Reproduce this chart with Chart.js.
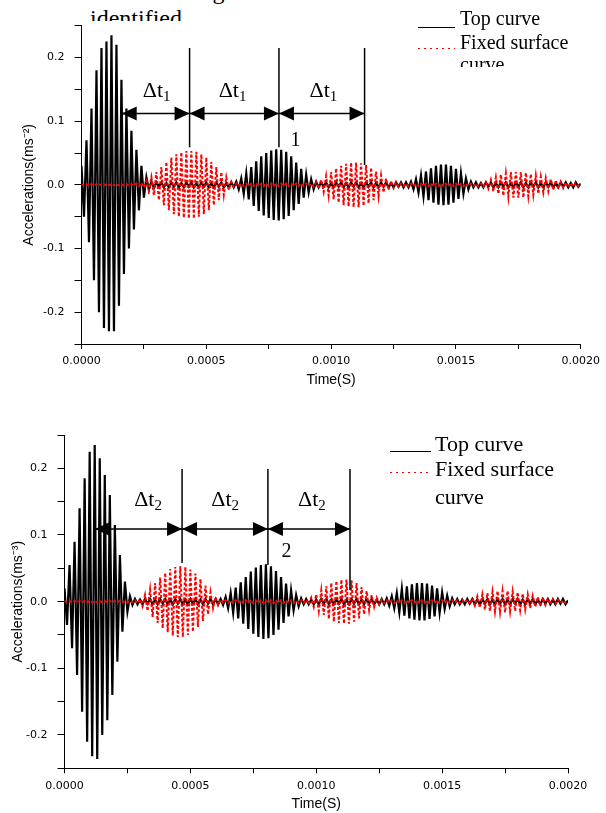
<!DOCTYPE html>
<html>
<head>
<meta charset="utf-8">
<title>Top curve / fixed surface curve</title>
<script src="https://cdn.jsdelivr.net/npm/chart.js@4.4.0/dist/chart.umd.min.js"></script>
<style>
  html, body { margin: 0; padding: 0; background: #fff; }
  body { width: 606px; height: 813px; position: relative; overflow: hidden; }
  #topBox { position: absolute; left: 0; top: 0; width: 606px; height: 400px; }
  #bottomBox { position: absolute; left: 0; top: 400px; width: 606px; height: 413px; }
  .serif { font-family: "Liberation Serif", "Times New Roman", serif; color: #000; white-space: nowrap; }
  .clip { position: absolute; overflow: hidden; }
  .abs { position: absolute; }
  .solid { position: absolute; height: 1px; background: #000; }
  .dots { position: absolute; height: 1px; background: repeating-linear-gradient(to right, #f00 0 2px, transparent 2px 6px); }
</style>
</head>
<body>

<!-- text of the page above the figure, cut off by the figure -->
<div class="clip serif" style="left:0; top:0; width:606px; height:21px; font-size:24px;">
  <div class="abs" style="left:90px; top:-22px; line-height:27px;">
    the wave ranges and the reflected wave could be clearly<br>identified
  </div>
</div>

<div id="topBox"><canvas id="chart1"></canvas></div>
<div id="bottomBox"><canvas id="chart2"></canvas></div>

<!-- legend, upper chart -->
<div class="clip" style="left:410px; top:0; width:196px; height:67px;">
  <div class="solid" style="left:8px; top:27px; width:37px;"></div>
  <div class="abs serif" style="left:50px; top:6px; font-size:20px; line-height:24px;">Top curve</div>
  <div class="dots" style="left:8px; top:48px; width:37px;"></div>
  <div class="abs serif" style="left:50px; top:30px; font-size:20px; line-height:24px;">Fixed surface</div>
  <div class="abs serif" style="left:50px; top:52px; font-size:20px; line-height:24px;">curve</div>
</div>

<!-- legend, lower chart -->
<div class="solid" style="left:390px; top:451px; width:41px;"></div>
<div class="abs serif" style="left:435px; top:431px; font-size:22px; line-height:26px;">Top curve</div>
<div class="dots" style="left:390px; top:472px; width:41px;"></div>
<div class="abs serif" style="left:435px; top:456px; font-size:22px; line-height:26px;">Fixed surface</div>
<div class="abs serif" style="left:435px; top:484px; font-size:22px; line-height:26px;">curve</div>

<script>
"use strict";

// one sample every 0.00001 s, 0 .. 0.002 s
const sampleStep = 0.00001;

// upper figure, accelerations (m/s2)
const topCurve1 = [
    0.03,-0.05,0.07,-0.09,0.12,-0.15,0.18,-0.2,0.215,-0.225,
    0.225,-0.23,0.235,-0.23,0.22,-0.19,0.165,-0.14,0.12,-0.1,
    0.085,-0.07,0.055,-0.04,0.03,-0.02,0.012,-0.008,0.006,-0.005,
    0.004,-0.003,0.004,-0.004,0.003,-0.004,0.004,-0.003,0.004,-0.004,
    0.003,-0.004,0.004,-0.003,0.004,-0.004,0.003,-0.004,0.004,-0.003,
    0.004,-0.004,0.003,-0.004,0.004,-0.003,0.004,-0.004,0.003,-0.004,
    0.004,-0.004,0.005,-0.007,0.01,-0.014,0.018,-0.023,0.028,-0.033,
    0.037,-0.041,0.045,-0.048,0.05,-0.052,0.054,-0.055,0.056,-0.056,
    0.055,-0.054,0.052,-0.049,0.045,-0.04,0.035,-0.03,0.025,-0.02,
    0.016,-0.012,0.009,-0.007,0.005,-0.004,0.004,-0.003,0.004,-0.004,
    0.003,-0.004,0.004,-0.003,0.004,-0.004,0.003,-0.004,0.004,-0.003,
    0.004,-0.004,0.003,-0.004,0.004,-0.003,0.004,-0.004,0.003,-0.004,
    0.004,-0.003,0.004,-0.004,0.003,-0.004,0.004,-0.003,0.004,-0.004,
    0.004,-0.004,0.005,-0.007,0.009,-0.012,0.015,-0.018,0.021,-0.024,
    0.026,-0.028,0.03,-0.031,0.032,-0.032,0.032,-0.031,0.03,-0.028,
    0.025,-0.022,0.018,-0.014,0.01,-0.007,0.005,-0.004,0.004,-0.004,
    0.003,-0.004,0.004,-0.003,0.004,-0.004,0.003,-0.004,0.004,-0.003,
    0.004,-0.004,0.003,-0.004,0.004,-0.003,0.004,-0.004,0.003,-0.004,
    0.004,-0.003,0.004,-0.004,0.003,-0.004,0.004,-0.003,0.004,-0.004,
    0.003,-0.004,0.004,-0.003,0.004,-0.004,0.003,-0.004,0.004,-0.003,
    0.002
];
const fixedCurve1 = [
    0.001,-0.001,0.001,-0.001,0.001,-0.001,0.001,-0.001,0.001,-0.001,
    0.001,-0.001,0.001,-0.001,0.001,-0.001,0.001,-0.001,0.001,-0.001,
    0.001,-0.001,0.002,-0.002,0.003,-0.004,0.006,-0.009,0.012,-0.016,
    0.02,-0.024,0.028,-0.032,0.036,-0.04,0.043,-0.046,0.048,-0.05,
    0.051,-0.052,0.053,-0.053,0.053,-0.053,0.052,-0.05,0.048,-0.046,
    0.043,-0.04,0.036,-0.032,0.028,-0.024,0.02,-0.016,0.012,-0.008,
    0.005,-0.003,0.002,-0.002,0.002,-0.002,0.002,-0.002,0.002,-0.002,
    0.002,-0.002,0.002,-0.002,0.002,-0.002,0.002,-0.002,0.002,-0.002,
    0.002,-0.002,0.002,-0.002,0.002,-0.002,0.002,-0.002,0.002,-0.002,
    0.002,-0.002,0.002,-0.003,0.004,-0.006,0.008,-0.011,0.014,-0.017,
    0.02,-0.023,0.026,-0.028,0.03,-0.032,0.033,-0.034,0.035,-0.035,
    0.035,-0.035,0.034,-0.033,0.031,-0.029,0.027,-0.024,0.021,-0.018,
    0.015,-0.012,0.01,-0.008,0.006,-0.005,0.004,-0.003,0.002,-0.002,
    0.002,-0.002,0.002,-0.002,0.002,-0.002,0.002,-0.002,0.002,-0.002,
    0.002,-0.002,0.002,-0.002,0.002,-0.002,0.002,-0.002,0.002,-0.002,
    0.002,-0.002,0.002,-0.002,0.002,-0.002,0.002,-0.002,0.002,-0.002,
    0.002,-0.003,0.004,-0.006,0.008,-0.01,0.012,-0.014,0.016,-0.017,
    0.018,-0.019,0.02,-0.02,0.02,-0.02,0.02,-0.02,0.019,-0.018,
    0.017,-0.016,0.015,-0.014,0.013,-0.012,0.011,-0.01,0.009,-0.008,
    0.007,-0.006,0.005,-0.005,0.004,-0.004,0.003,-0.003,0.002,-0.002,
    0.001
];

// lower figure
const topCurve2 = [
    0.02,-0.035,0.055,-0.07,0.09,-0.11,0.14,-0.165,0.185,-0.21,
    0.225,-0.232,0.235,-0.236,0.215,-0.2,0.19,-0.178,0.16,-0.14,
    0.115,-0.09,0.07,-0.045,0.03,-0.015,0.008,-0.005,0.004,-0.004,
    0.003,-0.004,0.004,-0.003,0.004,-0.004,0.003,-0.004,0.004,-0.003,
    0.004,-0.004,0.003,-0.004,0.004,-0.003,0.004,-0.004,0.003,-0.004,
    0.004,-0.003,0.004,-0.004,0.003,-0.004,0.004,-0.003,0.004,-0.004,
    0.004,-0.004,0.004,-0.005,0.007,-0.01,0.013,-0.017,0.021,-0.025,
    0.029,-0.033,0.037,-0.041,0.045,-0.048,0.051,-0.053,0.055,-0.056,
    0.056,-0.055,0.053,-0.05,0.046,-0.042,0.037,-0.032,0.027,-0.022,
    0.017,-0.013,0.01,-0.007,0.005,-0.004,0.004,-0.004,0.003,-0.004,
    0.003,-0.004,0.004,-0.003,0.004,-0.004,0.003,-0.004,0.004,-0.003,
    0.004,-0.004,0.003,-0.004,0.004,-0.003,0.004,-0.004,0.003,-0.004,
    0.004,-0.003,0.004,-0.004,0.003,-0.004,0.004,-0.004,0.005,-0.006,
    0.008,-0.01,0.013,-0.016,0.019,-0.021,0.023,-0.025,0.026,-0.027,
    0.028,-0.028,0.028,-0.028,0.027,-0.026,0.024,-0.022,0.02,-0.017,
    0.014,-0.011,0.009,-0.007,0.005,-0.004,0.004,-0.004,0.003,-0.004,
    0.004,-0.003,0.004,-0.004,0.003,-0.004,0.004,-0.003,0.004,-0.004,
    0.003,-0.004,0.004,-0.003,0.004,-0.004,0.003,-0.004,0.004,-0.003,
    0.004,-0.004,0.003,-0.004,0.004,-0.003,0.004,-0.004,0.003,-0.004,
    0.004,-0.003,0.004,-0.004,0.003,-0.004,0.004,-0.003,0.004,-0.004,
    0.002
];
const fixedCurve2 = [
    0.001,-0.001,0.001,-0.001,0.001,-0.001,0.001,-0.001,0.001,-0.001,
    0.001,-0.001,0.001,-0.001,0.001,-0.001,0.001,-0.001,0.001,-0.001,
    0.001,-0.001,0.001,-0.001,0.001,-0.001,0.001,-0.001,0.002,-0.002,
    0.004,-0.007,0.01,-0.014,0.018,-0.023,0.028,-0.032,0.036,-0.04,
    0.043,-0.046,0.049,-0.051,0.052,-0.053,0.053,-0.053,0.052,-0.05,
    0.048,-0.045,0.042,-0.038,0.034,-0.029,0.024,-0.019,0.014,-0.01,
    0.007,-0.005,0.003,-0.002,0.002,-0.002,0.002,-0.002,0.002,-0.002,
    0.002,-0.002,0.002,-0.002,0.002,-0.002,0.002,-0.002,0.002,-0.002,
    0.002,-0.002,0.002,-0.002,0.002,-0.002,0.002,-0.002,0.002,-0.002,
    0.002,-0.002,0.002,-0.002,0.002,-0.002,0.003,-0.004,0.006,-0.008,
    0.011,-0.014,0.017,-0.02,0.023,-0.026,0.028,-0.03,0.031,-0.032,
    0.033,-0.033,0.033,-0.033,0.032,-0.03,0.028,-0.025,0.022,-0.019,
    0.016,-0.013,0.01,-0.008,0.006,-0.004,0.003,-0.002,0.002,-0.002,
    0.002,-0.002,0.002,-0.002,0.002,-0.002,0.002,-0.002,0.002,-0.002,
    0.002,-0.002,0.002,-0.002,0.002,-0.002,0.002,-0.002,0.002,-0.002,
    0.002,-0.002,0.002,-0.002,0.002,-0.002,0.002,-0.002,0.002,-0.002,
    0.003,-0.004,0.005,-0.006,0.008,-0.009,0.011,-0.012,0.013,-0.014,
    0.015,-0.015,0.016,-0.016,0.016,-0.016,0.016,-0.015,0.015,-0.014,
    0.014,-0.013,0.012,-0.012,0.011,-0.01,0.009,-0.008,0.007,-0.007,
    0.006,-0.005,0.005,-0.004,0.004,-0.003,0.003,-0.002,0.002,-0.002,
    0.001
];

// delta-t markers (time in s, acceleration levels)
const markTimes1 = [0.000433, 0.000791, 0.001134];
const markEnds1 = [0.059, 0.059, 0.031];
const markTop1 = 0.215;
const arrowFrom1 = 0.000161;
const arrowLevel1 = 0.112;
const dtTimes1 = [0.000301, 0.000605, 0.000969];
const dtLevel1 = 0.138;
const peakNote1 = [0.000857, 0.061, "1"];

const markTimes2 = [0.000467, 0.000808, 0.001134];
const markEnds2 = [0.058, 0.055, 0.0175];
const markTop2 = 0.199;
const arrowFrom2 = 0.000121;
const arrowLevel2 = 0.109;
const dtTimes2 = [0.000332, 0.000638, 0.000983];
const dtLevel2 = 0.1435;
const peakNote2 = [0.000882, 0.067, "2"];

function toPoints(values) {
    return values.map((v, i) => ({ x: i * sampleStep, y: v }));
}

// Delta-t arrows drawn on the data scales
const dtMarkers = {
    id: 'dtMarkers',
    afterDatasetsDraw(chart, args, o) {
        const ctx = chart.ctx;
        const x = chart.scales.x, y = chart.scales.y;
        ctx.save();
        ctx.strokeStyle = '#000';
        ctx.fillStyle = '#000';
        ctx.lineWidth = 1.5;

        o.times.forEach((t, k) => {
            const px = x.getPixelForValue(t);
            ctx.beginPath();
            ctx.moveTo(px, y.getPixelForValue(o.top));
            ctx.lineTo(px, y.getPixelForValue(o.ends[k]));
            ctx.stroke();
        });

        const ay = y.getPixelForValue(o.level);
        const x0 = x.getPixelForValue(o.from);
        const x1 = x.getPixelForValue(o.times[o.times.length - 1]);
        ctx.beginPath();
        ctx.moveTo(x0, ay);
        ctx.lineTo(x1, ay);
        ctx.stroke();

        function head(tip, dir) {
            ctx.beginPath();
            ctx.moveTo(tip, ay);
            ctx.lineTo(tip - dir * 15, ay - 7);
            ctx.lineTo(tip - dir * 15, ay + 7);
            ctx.closePath();
            ctx.fill();
        }
        head(x0, -1);
        o.times.forEach((t, k) => {
            const px = x.getPixelForValue(t);
            head(px, 1);
            if (k < o.times.length - 1) head(px, -1);
        });

        // labels
        const big = '22px "Liberation Serif"', small = '15px "Liberation Serif"';
        const base = y.getPixelForValue(o.labelLevel);
        ctx.textAlign = 'left';
        ctx.textBaseline = 'alphabetic';
        o.labelTimes.forEach(t => {
            ctx.font = big;
            const w1 = ctx.measureText('\u0394t').width;
            ctx.font = small;
            const w2 = ctx.measureText(o.sub).width;
            const left = x.getPixelForValue(t) - (w1 + w2) / 2;
            ctx.font = big;
            ctx.fillText('\u0394t', left, base);
            ctx.font = small;
            ctx.fillText(o.sub, left + w1, base + 4);
        });
        ctx.font = '20px "Liberation Serif"';
        ctx.textAlign = 'center';
        ctx.fillText(o.note[2], x.getPixelForValue(o.note[0]), y.getPixelForValue(o.note[1]));
        ctx.restore();
    }
};

function makeChart(id, topVals, fixedVals, g, marks) {
    const tickFont = { family: '"DejaVu Sans"', size: 11 };
    new Chart(document.getElementById(id), {
        type: 'line',
        data: {
            datasets: [
                {
                    label: 'Top curve',
                    data: toPoints(topVals),
                    borderColor: '#000',
                    borderWidth: 2.2,
                    pointRadius: 0,
                    order: 2
                },
                {
                    label: 'Fixed surface curve',
                    data: toPoints(fixedVals),
                    borderColor: '#ff0000',
                    borderWidth: 2,
                    borderDash: [3, 2],
                    pointRadius: 0,
                    order: 1
                }
            ]
        },
        options: {
            responsive: true,
            maintainAspectRatio: false,
            animation: false,
            layout: { padding: g.padding },
            plugins: {
                legend: { display: false },
                tooltip: { enabled: false },
                dtMarkers: marks
            },
            scales: {
                x: {
                    type: 'linear',
                    min: 0,
                    max: 0.002,
                    border: { color: '#000', width: 1 },
                    grid: { drawOnChartArea: false, tickLength: 5, tickColor: '#000' },
                    ticks: {
                        stepSize: 0.00025,
                        autoSkip: false,
                        maxRotation: 0,
                        padding: 6,
                        color: '#000',
                        font: tickFont,
                        callback: v => (Math.round(v / 0.00025) % 2 === 0 ? v.toFixed(4) : '')
                    },
                    title: {
                        display: true,
                        text: 'Time(S)',
                        color: '#000',
                        font: { family: '"Liberation Sans"', size: 14 },
                        padding: { top: 0, bottom: g.xTitlePad }
                    },
                    afterFit: s => { s.height = g.xHeight; }
                },
                y: {
                    min: -0.25,
                    max: 0.25,
                    border: { color: '#000', width: 1 },
                    grid: { drawOnChartArea: false, tickLength: 7, tickColor: '#000' },
                    ticks: {
                        stepSize: 0.05,
                        padding: 10,
                        color: '#000',
                        font: tickFont,
                        callback: v => (Math.round(v * 20) % 2 === 0 ? (Math.round(v * 10) / 10).toFixed(1) : '')
                    },
                    title: {
                        display: true,
                        text: g.yTitle,
                        color: '#000',
                        font: { family: '"Liberation Sans"', size: 14 },
                        padding: { top: g.yTitlePad, bottom: 0 }
                    },
                    afterFit: s => { s.width = g.yWidth; }
                }
            }
        },
        plugins: [dtMarkers]
    });
}

makeChart('chart1', topCurve1, fixedCurve1,
    { padding: { left: 0, top: 25.7, right: 20.3, bottom: 0 }, xHeight: 56, yWidth: 81.5,
      xTitlePad: 11, yTitlePad: 20.4, yTitle: 'Accelerations(ms\u207B\u00B2)' },
    { times: markTimes1, ends: markEnds1, top: markTop1, from: arrowFrom1, level: arrowLevel1,
      labelTimes: dtTimes1, labelLevel: dtLevel1, sub: '1', note: peakNote1 });

makeChart('chart2', topCurve2, fixedCurve2,
    { padding: { left: 0, top: 35, right: 38, bottom: 0 }, xHeight: 44.7, yWidth: 64.5,
      xTitlePad: 0, yTitlePad: 9.4, yTitle: 'Accelerations(ms\u207B\u00B3)' },
    { times: markTimes2, ends: markEnds2, top: markTop2, from: arrowFrom2, level: arrowLevel2,
      labelTimes: dtTimes2, labelLevel: dtLevel2, sub: '2', note: peakNote2 });
</script>
</body>
</html>
